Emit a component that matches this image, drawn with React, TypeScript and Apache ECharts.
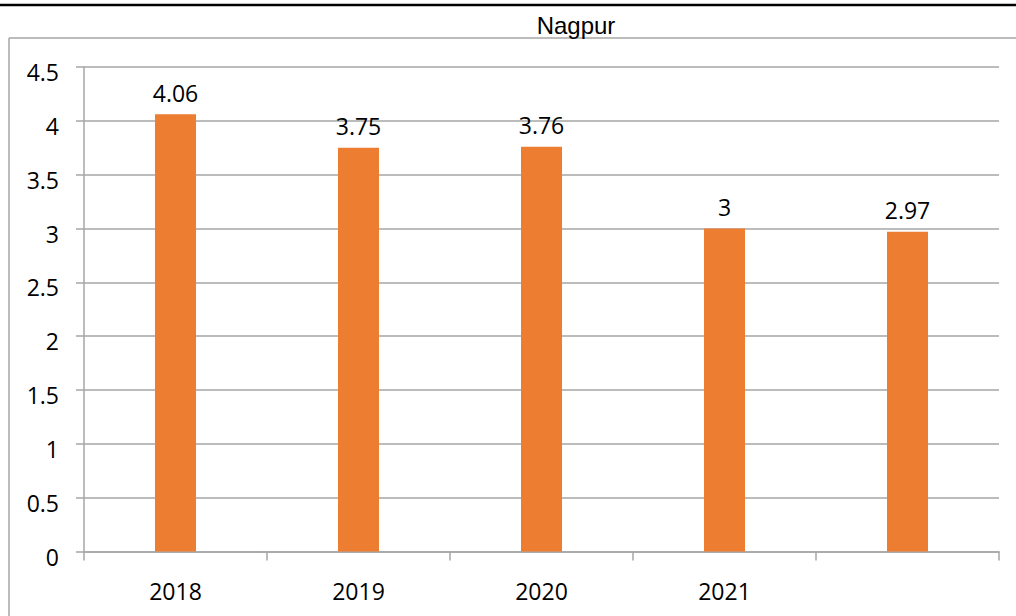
import React, { useEffect, useRef } from "react";
import * as echarts from "echarts";

const categories = ["2018", "2019", "2020", "2021", ""];
const values = [4.06, 3.75, 3.76, 3, 2.97];
const title = "Nagpur";

export default function App() {
  const ref = useRef<HTMLDivElement>(null);
  useEffect(() => {
    if (!ref.current) return;
    const chart = echarts.init(ref.current, null, { renderer: "svg" });
    const gray = "#a6a6a6";
    chart.setOption({
      animation: false,
      backgroundColor: "#ffffff",
      title: {
        text: title,
        left: 571,
        top: 8,
        textAlign: "center",
        textStyle: {
          fontFamily: "Liberation Sans, Arial",
          fontSize: 24,
          fontWeight: "normal",
          color: "#000",
        },
      },
      graphic: [
        { type: "line", shape: { x1: 0, y1: 5, x2: 1016, y2: 5 }, style: { stroke: "#000", lineWidth: 2.5 } },
        { type: "line", shape: { x1: 9, y1: 38, x2: 1016, y2: 38 }, style: { stroke: gray, lineWidth: 1.5 } },
        { type: "line", shape: { x1: 9, y1: 38, x2: 9, y2: 616 }, style: { stroke: gray, lineWidth: 1.5 } },
      ],
      grid: { left: 84, right: 17, top: 67, bottom: 64.5, containLabel: false },
      xAxis: {
        type: "category",
        data: categories,
        boundaryGap: true,
        axisLine: { show: true, lineStyle: { color: gray, width: 1.5 } },
        axisTick: { show: true, alignWithLabel: false, length: 9, lineStyle: { color: gray, width: 1.5 } },
        axisLabel: {
          margin: 28,
          fontFamily: "Open Sans",
          fontSize: 23,
          color: "#000",
        },
        splitLine: { show: false },
      },
      yAxis: {
        type: "value",
        min: 0,
        max: 4.5,
        interval: 0.5,
        axisLine: { show: true, lineStyle: { color: gray, width: 1.5 } },
        axisTick: { show: true, length: 8, lineStyle: { color: gray, width: 1.5 } },
        axisLabel: {
          margin: 25,
          color: "#000",
          formatter: "{v|{value}}",
          rich: {
            v: {
              fontFamily: "Open Sans",
              fontSize: 23,
              color: "#000",
              padding: [10, 0, 0, 0],
            },
          },
        },
        splitLine: { show: true, lineStyle: { color: gray, width: 1.5 } },
      },
      series: [
        {
          type: "bar",
          data: values,
          barWidth: 41,
          itemStyle: { color: "#ED7D31" },
          label: {
            show: true,
            position: "top",
            distance: 10,
            fontFamily: "Open Sans",
            fontSize: 23,
            color: "#000",
          },
        },
      ],
    });
    return () => chart.dispose();
  }, []);
  return (
    <div
      ref={ref}
      style={{ position: "absolute", left: 0, top: 0, width: 1016, height: 616 }}
    />
  );
}
